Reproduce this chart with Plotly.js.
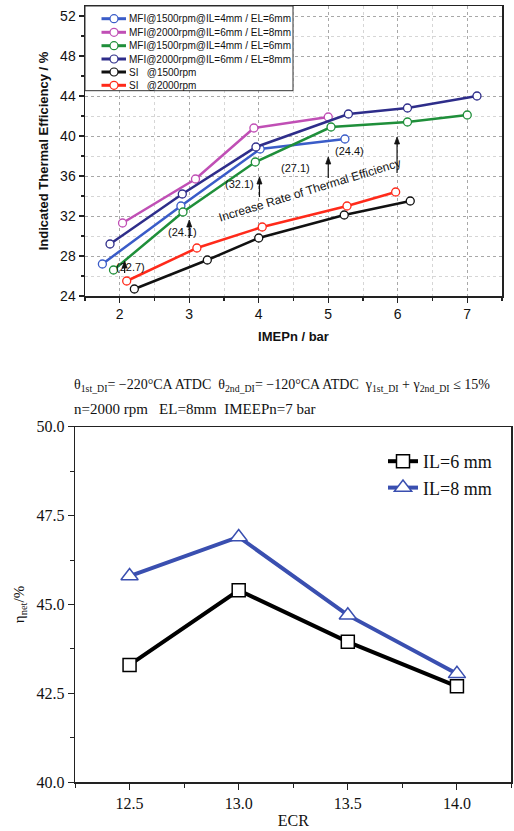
<!DOCTYPE html>
<html>
<head>
<meta charset="utf-8">
<script src="https://cdn.plot.ly/plotly-3.0.1.min.js"></script>
<style>html,body{margin:0;padding:0;background:#fff;}#chart{width:514px;height:831px;}</style>
</head>
<body>
<div id="chart"></div>
<script>
// ---------- Top chart data (IMEPn / bar vs Indicated Thermal Efficiency / %) ----------
const topNames = [
  "MFI@1500rpm@IL=4mm / EL=6mm",
  "MFI@2000rpm@IL=6mm / EL=8mm",
  "MFI@1500rpm@IL=4mm / EL=6mm",
  "MFI@2000rpm@IL=6mm / EL=8mm",
  "SI\u00a0\u00a0\u00a0@1500rpm",
  "SI\u00a0\u00a0\u00a0@2000rpm"
];
const topColors = ["#3a5cc8", "#c04fb5", "#1f8f3a", "#2e2d8a", "#111111", "#ff2a1a"];

const mfi1500a_x = [1.75, 2.88, 4.02, 5.24];
const mfi1500a_y = [27.2, 33.0, 38.7, 39.7];
const mfi2000a_x = [2.04, 3.09, 3.93, 5.00];
const mfi2000a_y = [31.3, 35.7, 40.8, 41.9];
const mfi1500b_x = [1.91, 2.91, 3.95, 5.04, 6.14, 7.00];
const mfi1500b_y = [26.6, 32.4, 37.4, 40.9, 41.4, 42.1];
const mfi2000b_x = [1.86, 2.90, 3.96, 5.29, 6.14, 7.14];
const mfi2000b_y = [29.2, 34.2, 38.9, 42.2, 42.8, 44.0];
const si1500_x = [2.21, 3.26, 4.00, 5.23, 6.18];
const si1500_y = [24.7, 27.6, 29.8, 32.1, 33.5];
const si2000_x = [2.10, 3.11, 4.05, 5.27, 5.97];
const si2000_y = [25.5, 28.8, 30.9, 33.0, 34.4];

// annotation labels (increase rates) and arrow positions
const rateLabels = ["(22.7)", "(24.1)", "(32.1)", "(27.1)", "(24.4)"];
const rateLabelX = [2.16, 2.90, 3.73, 4.53, 5.31];
const rateLabelY = [26.9, 30.4, 35.2, 36.8, 38.5];
const arrowX = [2.07, 3.00, 4.01, 5.00, 5.99];
const arrowHeadY = [27.5, 31.6, 35.9, 37.9, 39.9];
const arrowTailY = [26.3, 29.8, 33.9, 35.8, 36.3];
const trendText = "Increase Rate of Thermal Efficiency";

// ---------- Bottom chart data (ECR vs eta_net) ----------
const ecr = [12.5, 13.0, 13.5, 14.0];
const il6 = [43.3, 45.4, 43.95, 42.7];
const il8 = [45.8, 46.9, 44.7, 43.05];
const bottomNames = ["IL=6 mm", "IL=8 mm"];
const bottomColors = ["#000000", "#3a4fb0"];

const SANS = "Liberation Sans, Arial, sans-serif";
const SERIF = "Liberation Serif, Times New Roman, serif";

const topX = [mfi1500a_x, mfi2000a_x, mfi1500b_x, mfi2000b_x, si1500_x, si2000_x];
const topY = [mfi1500a_y, mfi2000a_y, mfi1500b_y, mfi2000b_y, si1500_y, si2000_y];

const traces = [];
for (let i = 0; i < topNames.length; i++) {
  traces.push({
    x: topX[i], y: topY[i], type: "scatter", mode: "lines+markers",
    name: topNames[i], showlegend: false, xaxis: "x", yaxis: "y",
    line: {color: topColors[i], width: 2.5},
    marker: {symbol: "circle", size: 8, color: "#ffffff", line: {color: topColors[i], width: 1.3}}
  });
}
const botY = [il6, il8];
const botSym = ["square", "triangle-up"];
const botSize = [13, 15];
for (let i = 0; i < 2; i++) {
  traces.push({
    x: ecr, y: botY[i], type: "scatter", mode: "lines+markers",
    name: bottomNames[i], showlegend: true, xaxis: "x2", yaxis: "y2",
    line: {color: bottomColors[i], width: 4},
    marker: {symbol: botSym[i], size: botSize[i], color: "#ffffff", line: {color: bottomColors[i], width: 1.5}}
  });
}

const W = 514, H = 831;
const px = v => v / W;
const py = v => 1 - v / H;

// top-chart legend (drawn manually: compact rows)
const shapes = [];
const annotations = [];
shapes.push({type: "rect", xref: "paper", yref: "paper", x0: px(85), x1: px(293), y0: py(90.7), y1: py(6),
  line: {color: "#333333", width: 1}, fillcolor: "#ffffff", layer: "above"});
const rowY = [18.7, 32.3, 45.7, 59, 72, 85.3];
for (let i = 0; i < topNames.length; i++) {
  shapes.push({type: "line", xref: "paper", yref: "paper", x0: px(101.5), x1: px(126), y0: py(rowY[i]), y1: py(rowY[i]),
    line: {color: topColors[i], width: 3}, layer: "above"});
  shapes.push({type: "circle", xref: "paper", yref: "paper", xsizemode: "pixel", ysizemode: "pixel",
    xanchor: px(114), yanchor: py(rowY[i]), x0: -4, x1: 4, y0: -4, y1: 4,
    line: {color: topColors[i], width: 1.2}, fillcolor: "#ffffff", layer: "above"});
  annotations.push({xref: "paper", yref: "paper", x: px(127), y: py(rowY[i]), xanchor: "left", yanchor: "middle",
    text: topNames[i], showarrow: false, font: {family: SANS, size: 10, color: "#111"}});
}

// rate labels and arrows (arrow = line shape + small triangular head)
for (let i = 0; i < rateLabels.length; i++) {
  annotations.push({xref: "x", yref: "y", x: rateLabelX[i], y: rateLabelY[i], text: rateLabels[i],
    showarrow: false, font: {family: SANS, size: 11, color: "#111"}});
  shapes.push({type: "line", xref: "x", yref: "y", x0: arrowX[i], x1: arrowX[i], y0: arrowTailY[i], y1: arrowHeadY[i] - 0.4,
    line: {color: "#111", width: 1.2}, layer: "above"});
  shapes.push({type: "path", xref: "x", yref: "y", xsizemode: "pixel", ysizemode: "pixel",
    xanchor: arrowX[i], yanchor: arrowHeadY[i], path: "M -2.5 -7 L 0 0 L 2.5 -7 Z",
    line: {color: "#111", width: 0.8}, fillcolor: "#111", layer: "above"});
}
annotations.push({xref: "x", yref: "y", x: 4.74, y: 34.6, text: trendText, textangle: -17,
  showarrow: false, font: {family: SANS, size: 12, color: "#111"}});

// header text of bottom chart
annotations.push({xref: "paper", yref: "paper", x: px(72), y: py(385), xanchor: "left", yanchor: "middle",
  text: "θ<sub>1st_DI</sub>= −220°CA ATDC\u00a0\u00a0θ<sub>2nd_DI</sub>= −120°CA ATDC\u00a0\u00a0γ<sub>1st_DI</sub> + γ<sub>2nd_DI</sub> ≤ 15%",
  showarrow: false, font: {family: SERIF, size: 14, color: "#111"}});
annotations.push({xref: "paper", yref: "paper", x: px(72), y: py(409), xanchor: "left", yanchor: "middle",
  text: "n=2000 rpm\u00a0\u00a0\u00a0EL=8mm\u00a0\u00a0IMEEPn=7 bar",
  showarrow: false, font: {family: SERIF, size: 15, color: "#111"}});

const layout = {
  width: W, height: H,
  margin: {l: 0, r: 0, t: 0, b: 0},
  paper_bgcolor: "#ffffff", plot_bgcolor: "#ffffff",
  showlegend: true,
  legend: {x: px(383), y: py(443), xanchor: "left", yanchor: "top", bgcolor: "rgba(0,0,0,0)",
    font: {family: SERIF, size: 18, color: "#111"}, tracegroupgap: 0},
  xaxis: {
    domain: [px(85), px(502)], anchor: "y", range: [1.5, 7.5], dtick: 1, tick0: 0,
    ticks: "outside", ticklen: 5, tickwidth: 1.2, tickcolor: "#222",
    showline: true, mirror: true, linecolor: "#222", linewidth: 1.5, zeroline: false,
    showgrid: true, gridcolor: "#a8a8a8", griddash: "dot", gridwidth: 1,
    minor: {dtick: 0.5, ticks: "outside", ticklen: 3, tickcolor: "#222", showgrid: true, gridcolor: "#d6d6d6", griddash: "dot"},
    tickfont: {family: SANS, size: 14, color: "#111"},
    title: {text: "IMEPn / bar", font: {family: SANS, size: 13, color: "#111", weight: "bold"}, standoff: 10}
  },
  yaxis: {
    domain: [py(296), py(6)], anchor: "x", range: [24, 53], dtick: 4, tick0: 0,
    ticks: "outside", ticklen: 5, tickwidth: 1.2, tickcolor: "#222",
    showline: true, mirror: true, linecolor: "#222", linewidth: 1.5, zeroline: false,
    showgrid: true, gridcolor: "#a8a8a8", griddash: "dot", gridwidth: 1,
    minor: {dtick: 2, ticks: "outside", ticklen: 3, tickcolor: "#222", showgrid: true, gridcolor: "#d6d6d6", griddash: "dot"},
    tickfont: {family: SANS, size: 14, color: "#111"},
    title: {text: "Indicated Thermal Efficiency / %", font: {family: SANS, size: 13, color: "#111", weight: "bold"}, standoff: 8}
  },
  xaxis2: {
    domain: [px(75), px(511.5)], anchor: "y2", range: [12.25, 14.25], dtick: 0.5, tick0: 12.5, tickformat: ".1f",
    ticks: "outside", ticklen: 6, tickwidth: 1, tickcolor: "#222",
    showline: true, mirror: true, linecolor: "#222", linewidth: 1.2, zeroline: false, showgrid: false,
    minor: {dtick: 0.25, ticks: "outside", ticklen: 4, tickcolor: "#222"},
    tickfont: {family: SERIF, size: 16, color: "#111"},
    title: {text: "ECR", font: {family: SERIF, size: 16, color: "#111"}, standoff: 4}
  },
  yaxis2: {
    domain: [py(782.3), py(426.7)], anchor: "x2", range: [40, 50], dtick: 2.5, tick0: 40, tickformat: ".1f",
    ticks: "outside", ticklen: 6, tickwidth: 1, tickcolor: "#222",
    showline: true, mirror: true, linecolor: "#222", linewidth: 1.2, zeroline: false, showgrid: false,
    minor: {dtick: 1.25, ticks: "outside", ticklen: 4, tickcolor: "#222"},
    tickfont: {family: SERIF, size: 16, color: "#111"},
    title: {text: "η<sub>net</sub>/%", font: {family: SERIF, size: 15, color: "#111"}, standoff: 8}
  },
  shapes: shapes,
  annotations: annotations
};

Plotly.newPlot("chart", traces, layout, {displayModeBar: false, staticPlot: true});
</script>
</body>
</html>
